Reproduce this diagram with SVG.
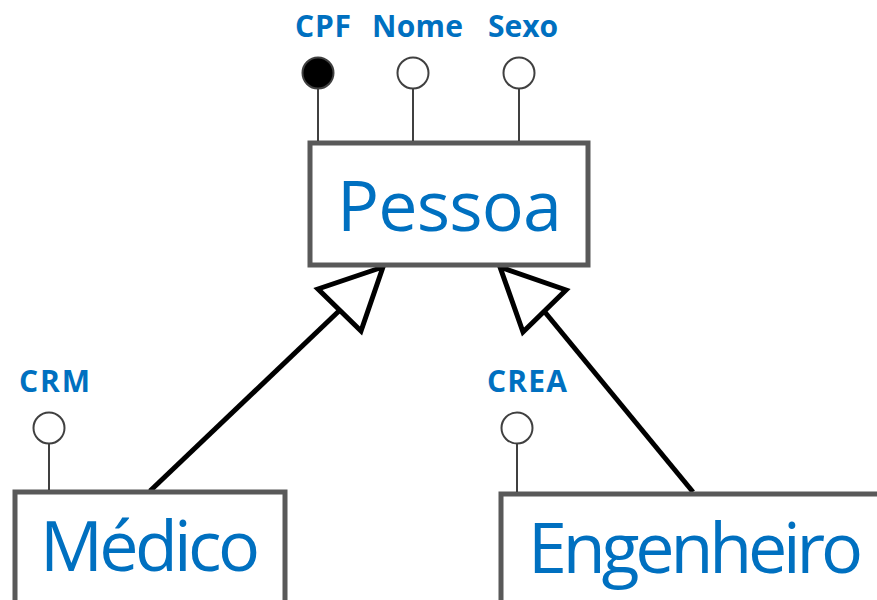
<svg xmlns="http://www.w3.org/2000/svg" width="877" height="600" viewBox="0 0 877 600">
<style>
.box{fill:#fff;stroke:#595959;stroke-width:5}
.name{font-family:"Open Sans","Liberation Sans",sans-serif;font-size:70px;fill:#0070C0}
.attr{font-family:"Open Sans","Liberation Sans",sans-serif;font-size:30px;font-weight:bold;fill:#0070C0}
.stem{stroke:#404040;stroke-width:2}
.dot{fill:#fff;stroke:#404040;stroke-width:2}
.key{fill:#000;stroke:#404040;stroke-width:2}
.link{stroke:#000;stroke-width:5;fill:none}
.head{fill:#fff;stroke:#000;stroke-width:5;stroke-linejoin:miter}
</style>
<rect width="877" height="600" fill="#fff"/>
<g id="connectors">
<line class="link" x1="150" y1="491" x2="340" y2="310"/>
<polygon class="head" points="383,267 318,289 361,331"/>
<line class="link" x1="693" y1="492" x2="544" y2="311"/>
<polygon class="head" points="500,267 566,290 523,332"/>
</g>
<g id="pessoa">
<rect class="box" x="310" y="143" width="278" height="122"/>
<text class="name" x="337" y="231" textLength="225">Pessoa</text>
</g>
<g id="attr-cpf">
<line class="stem" x1="318" y1="89" x2="318" y2="141"/>
<circle class="key" cx="318" cy="73" r="15.5"/>
<text class="attr" x="295" y="37" textLength="56">CPF</text>
</g>
<g id="attr-nome">
<line class="stem" x1="413" y1="89" x2="413" y2="141"/>
<circle class="dot" cx="413" cy="73" r="15.5"/>
<text class="attr" x="372" y="37" textLength="91">Nome</text>
</g>
<g id="attr-sexo">
<line class="stem" x1="519" y1="89" x2="519" y2="141"/>
<circle class="dot" cx="519" cy="73" r="15.5"/>
<text class="attr" x="488" y="37" textLength="70">Sexo</text>
</g>
<g id="medico">
<rect class="box" x="15" y="492" width="270" height="130"/>
<text class="name" x="40" y="571" textLength="220">Médico</text>
</g>
<g id="attr-crm">
<line class="stem" x1="49" y1="444" x2="49" y2="490"/>
<circle class="dot" cx="49" cy="428" r="15.5"/>
<text class="attr" x="19" y="392" textLength="71">CRM</text>
</g>
<g id="engenheiro">
<rect class="box" x="501" y="494" width="400" height="130"/>
<text class="name" x="528" y="573" textLength="335">Engenheiro</text>
</g>
<g id="attr-crea">
<line class="stem" x1="517" y1="444" x2="517" y2="492"/>
<circle class="dot" cx="517" cy="428" r="15.5"/>
<text class="attr" x="487" y="392" textLength="80">CREA</text>
</g>
</svg>
